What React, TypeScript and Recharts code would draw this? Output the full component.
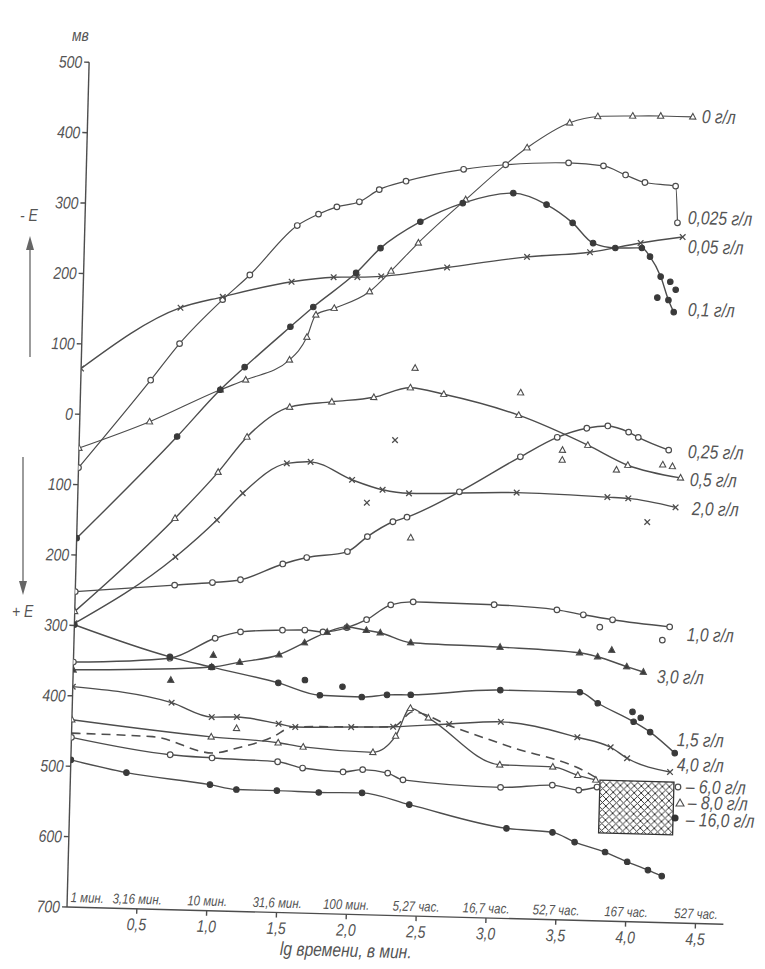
import React from "react";
import { ComposedChart, Line, Scatter, XAxis, YAxis, ReferenceArea } from "recharts";

type P = [number, number];

// ---- data (x = lg time in minutes, y = potential, mV; positive = "-E" side) ----
const c0: P[] = [[0,-48],[0.5,-8],[1.0,40],[1.18,55],[1.49,85],[1.61,118],[1.67,150],[1.8,160],[2.05,185],[2.2,215],[2.39,256],[2.72,319],[3.15,395],[3.45,432],[3.65,442],[3.9,444],[4.1,445],[4.33,445]];
const c025: P[] = [[0,-76],[0.5,51],[0.7,104],[1.0,168],[1.19,204],[1.52,276],[1.67,293],[1.8,304],[1.96,312],[2.1,330],[2.29,343],[2.7,362],[3.0,370],[3.45,375],[3.7,372],[3.86,360],[4.0,350],[4.22,346],[4.24,294]];
const c05: P[] = [[0,65],[0.7,155],[1.0,172],[1.49,196],[1.79,204],[1.96,205],[2.13,207],[2.6,222],[3.17,240],[3.62,249],[3.98,264],[4.28,274]];
const c1: P[] = [[0,-176],[0.7,-28],[1.0,40],[1.17,73],[1.49,132],[1.65,161],[1.95,211],[2.12,247],[2.4,286],[2.7,314],[3.06,330],[3.3,315],[3.49,290],[3.64,262],[3.8,256],[3.99,257],[4.05,245],[4.13,217],[4.19,184],[4.23,167]];
const c25: P[] = [[0,-252],[0.71,-239],[0.98,-234],[1.18,-229],[1.48,-205],[1.65,-195],[1.94,-185],[2.08,-163],[2.26,-141],[2.36,-134],[2.73,-96],[3.16,-44],[3.42,-15],[3.63,-1],[3.78,3],[3.93,-5],[4.0,-12],[4.22,-29]];
const c5: P[] = [[0,-280],[0.7,-144],[1.0,-77],[1.2,-26],[1.5,18],[1.8,27],[2.1,35],[2.36,50],[2.6,42],[3.14,15],[3.64,-25],[3.93,-52],[4.31,-68]];
const c20: P[] = [[0,-297],[0.71,-199],[1.0,-145],[1.18,-106],[1.49,-62],[1.66,-59],[1.96,-83],[2.18,-96],[2.37,-100],[3.14,-95],[3.79,-98],[3.94,-99],[4.28,-110]];
const c10: P[] = [[0,-352],[0.69,-343],[1.01,-313],[1.19,-303],[1.49,-299],[1.65,-298],[1.78,-300],[1.95,-293],[2.09,-281],[2.26,-259],[2.42,-254],[3.0,-255],[3.45,-260],[3.64,-266],[3.85,-272],[4.26,-280]];
const c30: P[] = [[0,-363],[0.99,-354],[1.19,-346],[1.47,-334],[1.65,-316],[1.81,-300],[1.95,-292],[2.09,-296],[2.19,-299],[2.41,-312],[3.05,-315],[3.62,-320],[3.75,-325],[3.96,-338],[4.08,-345]];
const c15: P[] = [[0,-299],[0.69,-341],[0.99,-354],[1.47,-374],[1.77,-390],[2.07,-391],[2.25,-387],[2.42,-386],[3.06,-376],[3.63,-376],[3.76,-391],[4.02,-416],[4.14,-430],[4.32,-459]];
const c40: P[] = [[0,-387],[0.71,-406],[1.0,-425],[1.18,-424],[1.48,-432],[1.6,-436],[2.0,-434],[2.3,-432],[2.7,-426],[3.07,-421],[3.62,-440],[3.86,-453],[3.98,-468],[4.29,-486]];
const c80: P[] = [[0,-434],[1.0,-453],[1.48,-459],[1.66,-464],[2.16,-469],[2.32,-445],[2.42,-405],[2.55,-418],[3.07,-482],[3.45,-483],[3.63,-494],[3.76,-500]];
const cDash: P[] = [[0,-453],[0.58,-455],[1.01,-476],[1.19,-468],[1.44,-451],[1.58,-436],[2.3,-432],[2.44,-410],[2.7,-428],[3.14,-456],[3.7,-490],[3.79,-500]];
const c60: P[] = [[0,-459],[0.71,-480],[1.01,-483],[1.48,-486],[1.66,-494],[1.95,-498],[2.09,-494],[2.27,-498],[2.38,-507],[3.08,-514],[3.45,-509],[3.64,-515],[3.77,-510]];
const c160: P[] = [[0,-491],[0.4,-507],[1.0,-521],[1.19,-527],[1.48,-527],[1.78,-528],[2.09,-527],[2.43,-542],[3.13,-572],[3.46,-576],[3.62,-589],[3.84,-602],[4.0,-615],[4.15,-626],[4.25,-634]];

// scattered measured points lying off the drawn curves
const sFilled: P[] = [[4.20,210],[4.24,199],[4.11,187],[4.01,-402],[4.07,-410],[1.66,-369],[1.93,-377]];
const sFtri: P[] = [[3.85,-315],[1.0,-337],[0.70,-374]];
const sX: P[] = [[4.08,-132],[2.07,-115],[2.26,-25]];
const sTri: P[] = [[3.15,47],[3.46,-33],[3.46,-47],[3.85,-59],[2.39,-163],[4.18,-50],[4.25,-52],[2.39,78],[1.18,-440]];
const sOpen: P[] = [[3.76,-283],[4.21,-299]];

const xTicks = [0.5, 1.0, 1.5, 2.0, 2.5, 3.0, 3.5, 4.0, 4.5];
const yTicks = [-700, -600, -500, -400, -300, -200, -100, 0, 100, 200, 300, 400, 500];
const timeLabels: [number, string][] = [[0.14, "1 мин."],[0.5, "3,16 мин."],[1.0, "10 мин."],[1.5, "31,6 мин."],[2.0, "100 мин."],[2.5, "5,27 час."],[3.0, "16,7 час."],[3.5, "52,7 час."],[4.0, "167 час."],[4.5, "527 час."]];

type Kind = "open" | "filled" | "tri" | "ftri" | "x" | "none";
const SERIES: { id: string; data: P[]; kind: Kind; w: number; dash?: string }[] = [
  { id: "c0", data: c0, kind: "tri", w: 1.1 },
  { id: "c025", data: c025, kind: "open", w: 1.2 },
  { id: "c05", data: c05, kind: "x", w: 1.4 },
  { id: "c1", data: c1, kind: "filled", w: 1.4 },
  { id: "c25", data: c25, kind: "open", w: 1.4 },
  { id: "c5", data: c5, kind: "tri", w: 1.4 },
  { id: "c20", data: c20, kind: "x", w: 1.4 },
  { id: "c10", data: c10, kind: "open", w: 1.4 },
  { id: "c30", data: c30, kind: "ftri", w: 1.4 },
  { id: "c15", data: c15, kind: "filled", w: 1.4 },
  { id: "c40", data: c40, kind: "x", w: 1.4 },
  { id: "c80", data: c80, kind: "tri", w: 1.3 },
  { id: "cDash", data: cDash, kind: "none", w: 1.6, dash: "9 6" },
  { id: "c60", data: c60, kind: "open", w: 1.4 },
  { id: "c160", data: c160, kind: "filled", w: 1.4 },
];
const SCATTERS: { id: string; data: P[]; kind: Kind }[] = [
  { id: "sFilled", data: sFilled, kind: "filled" },
  { id: "sFtri", data: sFtri, kind: "ftri" },
  { id: "sX", data: sX, kind: "x" },
  { id: "sTri", data: sTri, kind: "tri" },
  { id: "sOpen", data: sOpen, kind: "open" },
];

const curveLabels: [number, number, string][] = [
  [702, 117, "0 г/л"],
  [688, 218, "0,025 г/л"],
  [688, 247, "0,05 г/л"],
  [688, 310, "0,1 г/л"],
  [688, 452, "0,25 г/л"],
  [690, 480, "0,5 г/л"],
  [692, 509, "2,0 г/л"],
  [687, 635, "1,0 г/л"],
  [657, 677, "3,0 г/л"],
  [677, 740, "1,5 г/л"],
  [677, 765, "4,0 г/л"],
  [686, 787, "– 6,0 г/л"],
  [688, 803, "– 8,0 г/л"],
  [686, 820, "– 16,0 г/л"],
];

const FONT = "'Liberation Sans', Arimo, 'DejaVu Sans', sans-serif";
const INK = "#4d4d4d";
const TXT = "#555";

const W = 757, H = 953;
const LEFT = 59, TOP = 54, PW = 4.7 * 139.7, PH = 845;
const toPx = (x: number, y: number) => [LEFT + (x / 4.7) * PW, TOP + ((500 - y) / 1200) * PH];

function Marker(props: any) {
  const { cx, cy, kind } = props;
  if (cx == null || cy == null || kind === "none") return null;
  const s = 2.8;
  if (kind === "open") return <circle cx={cx} cy={cy} r={s} fill="#fff" stroke={INK} strokeWidth={1.2} />;
  if (kind === "filled") return <circle cx={cx} cy={cy} r={s} fill="#3a3a3a" stroke="#3a3a3a" />;
  if (kind === "tri" || kind === "ftri")
    return <path d={`M${cx},${cy - s - 0.6} L${cx + s + 0.3},${cy + s - 0.6} L${cx - s - 0.3},${cy + s - 0.6} Z`} fill={kind === "tri" ? "#fff" : "#3a3a3a"} stroke={INK} strokeWidth={1.1} />;
  return <path d={`M${cx - s},${cy - s} L${cx + s},${cy + s} M${cx + s},${cy - s} L${cx - s},${cy + s}`} stroke={INK} strokeWidth={1.3} />;
}

const Hatch = (p: any) => {
  const { x, y, width, height } = p;
  return (
    <g>
      <defs>
        <pattern id="xhatch" width="7" height="7" patternUnits="userSpaceOnUse">
          <path d="M0,0 L7,7 M7,0 L0,7" stroke="#333" strokeWidth="1" />
        </pattern>
      </defs>
      <rect x={x} y={y} width={width} height={height} fill="url(#xhatch)" stroke="#333" strokeWidth={1.3} />
    </g>
  );
};

const tickText = { fontSize: 17, fill: TXT, fontStyle: "italic", fontFamily: FONT } as any;

const XTick = (p: any) => (
  <text transform={`translate(${p.x},${p.y}) scale(0.82,1)`} textAnchor="middle" dy="0.85em" style={tickText}>
    {Number(p.payload.value).toFixed(1).replace(".", ",")}
  </text>
);
const YTick = (p: any) => (
  <text transform={`translate(${p.x},${p.y}) scale(0.82,1)`} textAnchor="end" dy="0.35em" style={tickText}>
    {String(Math.abs(p.payload.value))}
  </text>
);

const narrow = (extra: string) => ({ transform: `${extra} scaleX(0.82)`, transformOrigin: "0 50%" });

export default function App() {
  return (
    <div style={{ position: "relative", width: W, height: H, background: "#fff", fontFamily: FONT, color: TXT }}>
      <div style={{ position: "absolute", left: 0, top: 0, width: W, height: H, transform: "rotate(1.5deg)", transformOrigin: `${LEFT}px ${TOP + PH}px` }}>
        <ComposedChart width={W} height={H} margin={{ top: TOP, right: W - LEFT - PW, bottom: 14, left: 0 }}>
          <XAxis dataKey="x" type="number" domain={[0, 4.7]} ticks={xTicks} allowDataOverflow height={40}
            tick={<XTick />} stroke={INK} strokeWidth={1.4} tickSize={5} />
          <YAxis dataKey="y" type="number" domain={[-700, 500]} ticks={yTicks} allowDataOverflow width={LEFT}
            tick={<YTick />} stroke={INK} strokeWidth={1.4} tickSize={5} />
          <ReferenceArea x1={3.79} x2={4.32} y1={-575} y2={-500} shape={Hatch} ifOverflow="visible" />
          {SERIES.map((s) => (
            <Line key={s.id} data={s.data.map(([x, y]) => ({ x, y }))} dataKey="y" type="monotone"
              stroke={INK} strokeWidth={s.w} strokeDasharray={s.dash} isAnimationActive={false}
              dot={(p: any) => <Marker key={`${s.id}-${p.index}`} cx={p.cx} cy={p.cy} kind={s.kind} />}
              activeDot={false} />
          ))}
          {SCATTERS.map((s) => (
            <Scatter key={s.id} data={s.data.map(([x, y]) => ({ x, y }))} dataKey="y" isAnimationActive={false}
              shape={(p: any) => <Marker cx={p.cx} cy={p.cy} kind={s.kind} />} />
          ))}
        </ComposedChart>
        {timeLabels.map(([x, t]) => {
          const [px, py] = toPx(x, -700);
          return (
            <div key={t} style={{ position: "absolute", left: px, top: py - 17, fontSize: 14, fontStyle: "italic", whiteSpace: "nowrap", lineHeight: "15px", transform: "translateX(-50%) scaleX(0.82)" }}>{t}</div>
          );
        })}
      </div>
      {curveLabels.map(([x, y, t]) => (
        <div key={t} style={{ position: "absolute", left: x - 8, top: y - 8 - 11, fontSize: 19, lineHeight: "22px", fontStyle: "italic", whiteSpace: "nowrap", ...narrow("rotate(1.5deg)") }}>{t}</div>
      ))}
      <svg style={{ position: "absolute", left: 0, top: 0 }} width={W} height={H}>
        <circle cx={678 - 8} cy={787 - 8} r={2.8} fill="#fff" stroke={INK} strokeWidth={1.2} />
        <path d={`M${680 - 8},${803 - 8 - 4} L${684 - 8},${803 - 8 + 3} L${676 - 8},${803 - 8 + 3} Z`} fill="#fff" stroke={INK} strokeWidth={1.1} />
        <circle cx={675 - 8} cy={818 - 8} r={3.6} fill="#333" />
        <line x1={30 - 8} y1={357 - 8} x2={30 - 8} y2={240 - 8} stroke="#666" strokeWidth={1.3} />
        <path d={`M${30 - 8},${236 - 8} L${26 - 8},${250 - 8} L${34 - 8},${250 - 8} Z`} fill="#666" />
        <line x1={23 - 8} y1={457 - 8} x2={23 - 8} y2={590 - 8} stroke="#666" strokeWidth={1.3} />
        <path d={`M${23 - 8},${595 - 8} L${19 - 8},${581 - 8} L${27 - 8},${581 - 8} Z`} fill="#666" />
      </svg>
      <div style={{ position: "absolute", left: 20 - 8, top: 206 - 8, fontSize: 17, fontStyle: "italic", ...narrow("") }}>- E</div>
      <div style={{ position: "absolute", left: 12 - 8, top: 602 - 8, fontSize: 17, fontStyle: "italic", ...narrow("") }}>+ E</div>
      <div style={{ position: "absolute", left: 72 - 8, top: 26 - 8, fontSize: 17, fontStyle: "italic", ...narrow("") }}>мв</div>
      <div style={{ position: "absolute", left: 280 - 8, top: 938 - 8, fontSize: 19, fontStyle: "italic", whiteSpace: "nowrap", ...narrow("rotate(1.5deg)") }}>lg времени, в мин.</div>
    </div>
  );
}
